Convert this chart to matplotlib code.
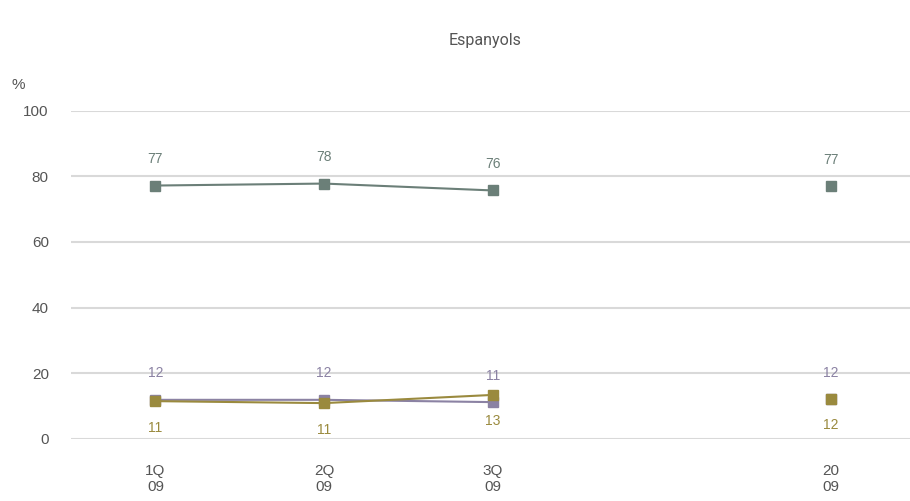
import numpy as np
import matplotlib
matplotlib.use("Agg")
import matplotlib.pyplot as plt

categories = ["1Q\n09", "2Q\n09", "3Q\n09", "", "20\n09"]
green = [77.2, 77.8, 75.7, np.nan, 77.0]
purple = [11.9, 11.9, 11.2, np.nan, 12.0]
gold = [11.5, 10.9, 13.4, np.nan, 12.2]
green_lbl = ["77", "78", "76", "", "77"]
purple_lbl = ["12", "12", "11", "", "12"]
gold_lbl = ["11", "11", "13", "", "12"]

c_green = "#6b7f78"
c_purple = "#8b82a3"
c_gold = "#9a8a3e"

plt.rcParams["font.family"] = ["Liberation Sans", "DejaVu Sans"]

fig = plt.figure(figsize=(9.1, 5.01), dpi=100)
ax = fig.add_axes([0.078, 0.124, 0.922, 0.655])
x = np.arange(len(categories))

for vals, labs, col, off, va in [(green, green_lbl, c_green, 14, "bottom"),
                                 (purple, purple_lbl, c_purple, 14, "bottom"),
                                 (gold, gold_lbl, c_gold, -14, "top")]:
    ax.plot(x, vals, color=col, lw=1.5, marker="s", ms=7.5, zorder=3)
    for xi, v, t in zip(x, vals, labs):
        if t:
            ax.annotate(t, (xi, v), xytext=(0, off), textcoords="offset points",
                        ha="center", va=va, color=col, fontsize=10)

ax.set_xlim(-0.5, 4.47)
ax.set_ylim(0, 100)
ax.set_yticks([0, 20, 40, 60, 80, 100])
ax.set_xticks(x)
ax.set_xticklabels(categories)
ax.yaxis.grid(True, color="#d9d9d9", lw=1.5)
ax.set_axisbelow(True)
for s in ax.spines.values():
    s.set_visible(False)
ax.tick_params(length=0, labelsize=11, colors="#555555")
ax.tick_params(axis="x", pad=18)
ax.tick_params(axis="y", pad=16)

fig.text(0.013, 0.822, "%", fontsize=11, color="#555555")
fig.text(0.533, 0.91, "Espanyols", fontsize=11.5, color="#555555", ha="center",
         family=["Roboto", "DejaVu Sans"])

fig.savefig("out.png", dpi=100)
